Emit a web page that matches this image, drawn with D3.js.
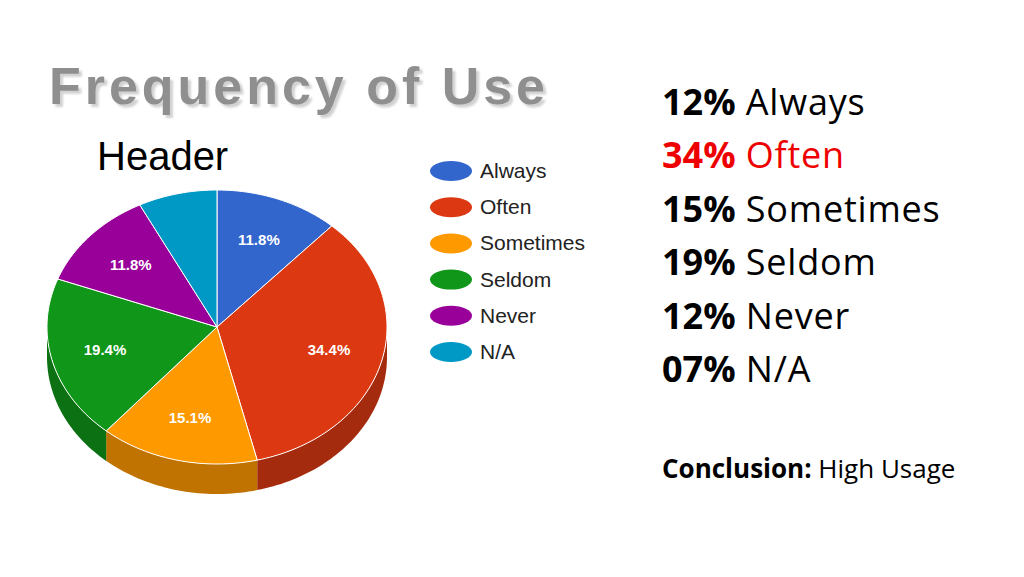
<!DOCTYPE html><html><head><meta charset="utf-8">
<script src="https://cdn.jsdelivr.net/npm/d3@7"></script>
<style>body{margin:0;background:#fff}</style></head><body>
<svg id="c" width="1024" height="577"></svg>
<script>
const categories=["Always","Often","Sometimes","Seldom","Never","N/A"];
const values=[11.8,34.4,15.1,19.4,11.8,7.5];
const pieLabels=["11.8%","34.4%","15.1%","19.4%","11.8%",""];
const colors=["#3366cc","#dc3912","#ff9900","#109618","#990099","#0099c6"];
const summaryPct=["12%","34%","15%","19%","12%","07%"];
const summaryColors=["#000","#e00","#000","#000","#000","#000"];

const svg=d3.select("#c");
const cx=217,cy=327,rx=170,ry=137,depth=30;
const arcs=d3.pie().sort(null)(values);
const pt=(a,dy=0)=>[cx+rx*Math.sin(a),cy-ry*Math.cos(a)+dy];
function arcPts(a0,a1,dy){const n=Math.max(2,Math.ceil((a1-a0)*40));return d3.range(n+1).map(i=>pt(a0+(a1-a0)*i/n,dy));}
const line=d3.line();
arcs.forEach((d,i)=>{
  const a0=Math.max(d.startAngle,Math.PI/2),a1=Math.min(d.endAngle,3*Math.PI/2);
  if(a1<=a0)return;
  const top=arcPts(a0,a1,0),bot=arcPts(a0,a1,depth).reverse();
  svg.append("path").attr("d",line(top.concat(bot))+"Z").attr("fill",d3.color(colors[i]).darker(0.8));
});
arcs.forEach((d,i)=>{
  const p=[[cx,cy]].concat(arcPts(d.startAngle,d.endAngle,0));
  svg.append("path").attr("d",line(p)+"Z").attr("fill",colors[i]).attr("stroke","#fff").attr("stroke-width",1);
});
arcs.forEach((d,i)=>{
  const m=(d.startAngle+d.endAngle)/2,f=0.68;
  svg.append("text").attr("x",cx+rx*f*Math.sin(m)).attr("y",cy-ry*f*Math.cos(m)+5)
   .attr("text-anchor","middle").attr("fill","#fff").attr("font-family","Arial, Liberation Sans")
   .attr("font-size",15).attr("font-weight","bold").text(pieLabels[i]);
});
const defs=svg.append("defs");
const flt=defs.append("filter").attr("id","sh").attr("x","-5%").attr("y","-20%").attr("width","115%").attr("height","150%");
flt.append("feDropShadow").attr("dx",3).attr("dy",3).attr("stdDeviation",1).attr("flood-color","#d0d0d0");
svg.append("text").attr("x",49).attr("y",104).attr("font-family","Liberation Sans, Arial").attr("font-weight","bold")
 .attr("font-size",52).attr("textLength",496).attr("fill","#8f8f8f").attr("filter","url(#sh)").text("Frequency of Use");
svg.append("text").attr("x",97).attr("y",170).attr("font-family","Liberation Sans, Arial")
 .attr("font-size",40).attr("fill","#000").text("Header");
const ly=d3.scalePoint().domain(categories).range([171,352]);
categories.forEach((c,i)=>{
  svg.append("ellipse").attr("cx",451).attr("cy",ly(c)).attr("rx",21).attr("ry",10).attr("fill",colors[i]);
  svg.append("text").attr("x",480).attr("y",ly(c)+7).attr("font-family","Liberation Sans, Arial")
   .attr("font-size",21).attr("fill","#222").text(c);
});
const sy=d3.scalePoint().domain(categories).range([115,382]);
categories.forEach((c,i)=>{
  const t=svg.append("text").attr("x",662).attr("y",sy(c)).attr("font-family","Open Sans, Liberation Sans")
   .attr("font-size",36).attr("fill",summaryColors[i]);
  t.append("tspan").attr("font-weight","bold").text(summaryPct[i]);
  t.append("tspan").attr("letter-spacing",0.8).text(" "+c);
});
const ct=svg.append("text").attr("x",662).attr("y",478).attr("font-family","Open Sans, Liberation Sans").attr("font-size",26);
ct.append("tspan").attr("font-weight","bold").text("Conclusion:");
ct.append("tspan").text(" High Usage");
</script></body></html>
